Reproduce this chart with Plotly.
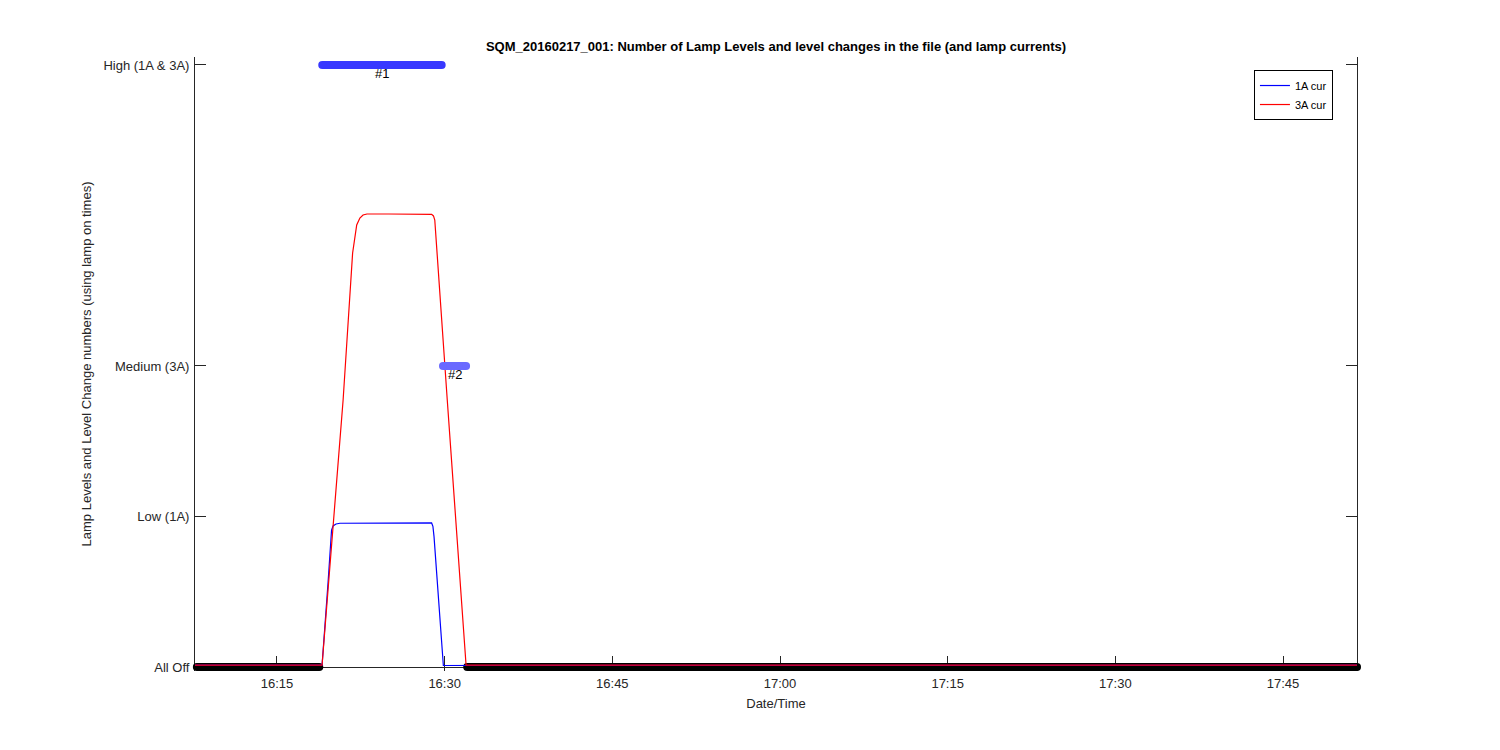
import plotly.graph_objects as go
import pandas as pd

DAY = "2016-02-17 "

# ---- data ----
axis_start = "16:07:40"
axis_end = "17:51:37"

level_vals = [0, 1, 2, 4]
level_text = ["All Off", "Low (1A)", "Medium (3A)", "High (1A & 3A)"]

seg_start = ["16:07:50", "16:19:03", "16:29:51", "16:32:01"]
seg_end = ["16:18:47", "16:29:44", "16:31:55", "17:51:37"]
seg_level = [0, 4, 2, 0]
seg_label = ["", "#1", "#2", ""]
seg_color = ["#000000", "#3838ff", "#6a6aff", "#000000"]

cur1_t = ["16:07:40", "16:19:02", "16:19:34", "16:19:53", "16:20:01", "16:20:17",
          "16:20:38", "16:24:00", "16:28:50", "16:28:57", "16:29:03", "16:29:53",
          "16:31:49", "16:31:55", "17:51:37"]
cur1_v = [0.012, 0.012, 0.558, 0.910, 0.937, 0.950,
          0.955, 0.957, 0.957, 0.935, 0.866, 0.010,
          0.010, 0.012, 0.012]

cur3_t = ["16:07:40", "16:19:02", "16:20:55", "16:21:46", "16:22:08", "16:22:25",
          "16:22:42", "16:23:03", "16:25:00", "16:28:50", "16:29:00", "16:29:07",
          "16:30:14", "16:31:55", "17:51:37"]
cur3_v = [0.012, 0.012, 1.774, 2.751, 2.937, 2.983,
          3.003, 3.010, 3.010, 3.008, 2.997, 2.970,
          1.774, 0.012, 0.012]


def ts(lst):
    return [DAY + s for s in lst]


fig = go.Figure()


def add_segment(i):
    fig.add_trace(go.Scatter(
        x=ts([seg_start[i], seg_end[i]]), y=[seg_level[i], seg_level[i]],
        mode="lines+markers",
        line=dict(color=seg_color[i], width=8),
        marker=dict(color=seg_color[i], size=8, symbol="circle"),
        showlegend=False, hoverinfo="skip", cliponaxis=False))


# black (All Off) segments beneath currents
for i in range(len(seg_level)):
    if seg_level[i] == 0:
        add_segment(i)

fig.add_trace(go.Scatter(x=ts(cur1_t), y=cur1_v, mode="lines", name="1A cur",
                         line=dict(color="#0000ff", width=1.2)))
fig.add_trace(go.Scatter(x=ts(cur3_t), y=cur3_v, mode="lines", name="3A cur",
                         line=dict(color="#ff0000", width=1.2)))

for i in range(len(seg_level)):
    if seg_level[i] != 0:
        add_segment(i)
        t0 = pd.Timestamp(DAY + seg_start[i])
        t1 = pd.Timestamp(DAY + seg_end[i])
        fig.add_annotation(x=t0 + (t1 - t0) / 2, y=seg_level[i], text=seg_label[i],
                           showarrow=False, xanchor="center", yanchor="top", yshift=1,
                           font=dict(size=13, color="#000000"))

font_family = "Liberation Sans, Arial, sans-serif"
W, H = 1484, 734
axcol = "#262626"

fig.update_layout(
    width=W, height=H,
    margin=dict(l=187, r=135, t=49, b=71),
    paper_bgcolor="white", plot_bgcolor="white",
    font=dict(family=font_family, size=13, color=axcol),
    title=dict(text="<b>SQM_20160217_001: Number of Lamp Levels and level changes in the file (and lamp currents)</b>",
               x=768 / W, xanchor="center", y=1 - 38 / H, yanchor="middle",
               font=dict(size=13, color="#000000")),
    legend=dict(x=0.9793, xanchor="right", y=0.9788, yanchor="top",
                bgcolor="white", bordercolor="#000000", borderwidth=1,
                font=dict(size=11, color="#000000"), tracegroupgap=0),
    showlegend=True,
)

xrange_ = [DAY + axis_start, DAY + axis_end]
common_x = dict(type="date", range=xrange_, tick0=DAY + "16:15:00", dtick=15 * 60 * 1000,
                tickformat="%H:%M", ticks="inside", tickcolor=axcol, tickwidth=1,
                showgrid=False, zeroline=False, layer="below traces")

fig.update_layout(
    xaxis=dict(**common_x, ticklen=15, showline=False, ticklabelstandoff=3,
               title=dict(text="Date/Time", font=dict(size=13, color=axcol), standoff=8),
               tickfont=dict(size=13, color=axcol)),
    xaxis2=dict(**common_x, ticklen=11, overlaying="x", side="top", anchor="y",
                showline=True, linecolor=axcol, linewidth=1, showticklabels=False),
    yaxis=dict(range=[-0.0266, 4.053],
               tickmode="array", tickvals=level_vals, ticktext=level_text,
               ticks="inside", ticklen=11, tickcolor=axcol, tickwidth=1,
               showline=True, linecolor=axcol, linewidth=1, mirror="allticks",
               showgrid=False, zeroline=True, zerolinecolor=axcol, zerolinewidth=1,
               layer="below traces", ticklabelstandoff=2,
               title=dict(text="Lamp Levels and Level Change numbers (using lamp on times)",
                          font=dict(size=13, color=axcol), standoff=8),
               tickfont=dict(size=13, color=axcol)),
)

fig.write_html("out.html")
